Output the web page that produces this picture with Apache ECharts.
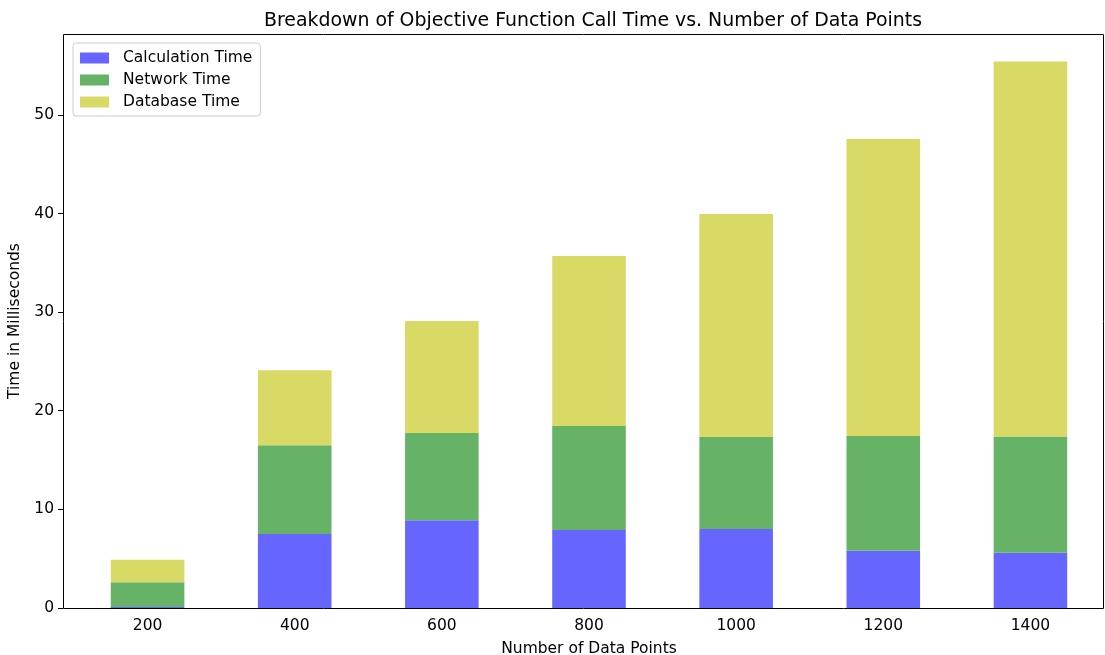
<!DOCTYPE html>
<html>
<head>
<meta charset="utf-8">
<script src="https://cdn.jsdelivr.net/npm/echarts@6/dist/echarts.min.js"></script>
<style>
  html, body { margin: 0; padding: 0; background: #fff; overflow: hidden; }
  #main { width: 1105px; height: 655px; }
</style>
</head>
<body>
<div id="main"></div>
<script>
var categories = ["200", "400", "600", "800", "1000", "1200", "1400"];
var calcTime = [0.1, 7.5, 8.9, 7.9, 8.0, 5.8, 5.6];
var networkTime = [2.5, 9.0, 8.85, 10.55, 9.35, 11.65, 11.8];
var databaseTime = [2.3, 7.6, 11.35, 17.25, 22.6, 30.1, 38.0];
var yTicks = [0, 10, 20, 30, 40, 50];

var font = "DejaVu Sans";
var chartDom = document.getElementById("main");
var myChart = echarts.init(chartDom);

function barSeries(name, data, color) {
  return {
    name: name,
    type: "bar",
    stack: "total",
    data: data,
    barWidth: "50%",
    itemStyle: { color: color },
    emphasis: { disabled: true }
  };
}

var option = {
  animation: false,
  textStyle: { fontFamily: font },
  title: {
    text: "Breakdown of Objective Function Call Time vs. Number of Data Points",
    left: 588,
    textAlign: "center",
    top: 7,
    textStyle: { fontFamily: font, fontSize: 18.9, fontWeight: "normal", color: "#000" }
  },
  legend: {
    orient: "vertical",
    left: 73,
    top: 43,
    itemWidth: 29,
    itemHeight: 11,
    itemGap: 6,
    padding: [7, 8, 6, 7],
    borderColor: "#ccc",
    borderWidth: 1,
    borderRadius: 3,
    backgroundColor: "#fff",
    icon: "rect",
    textStyle: { fontFamily: font, fontSize: 15.5, color: "#000", padding: [0, 0, 0, 9] },
    data: ["Calculation Time", "Network Time", "Database Time"]
  },
  // the plot frame (matplotlib style box), the bars start a little right of it
  graphic: [{
    type: "rect",
    z: 100,
    silent: true,
    shape: { x: 63.5, y: 34.5, width: 1040, height: 574 },
    style: { fill: null, stroke: "#000", lineWidth: 1 }
  }],
  grid: {
    left: 74,
    right: 1,
    top: 34,
    bottom: 47,
    show: false,
    outerBoundsMode: "none",
    containLabel: false
  },
  xAxis: {
    type: "category",
    data: categories,
    name: "Number of Data Points",
    nameLocation: "middle",
    nameGap: 33,
    nameTextStyle: { fontFamily: font, fontSize: 15.5, color: "#000" },
    axisLine: { show: false },
    axisTick: { alignWithLabel: true, length: 5, lineStyle: { color: "#000" } },
    axisLabel: { fontFamily: font, fontSize: 15.5, color: "#000", margin: 10 },
    splitLine: { show: false }
  },
  yAxis: {
    type: "value",
    min: 0,
    max: 58.2,
    offset: 11,
    name: "Time in Milliseconds",
    nameLocation: "middle",
    nameGap: 33,
    nameTextStyle: { fontFamily: font, fontSize: 15.5, color: "#000" },
    axisLine: { show: false, onZero: false },
    axisTick: { show: true, length: 5, lineStyle: { color: "#000" }, customValues: yTicks },
    axisLabel: {
      fontFamily: font, fontSize: 15.5, color: "#000", margin: 9,
      customValues: yTicks
    },
    splitLine: { show: false }
  },
  series: [
    barSeries("Calculation Time", calcTime, "#6666ff"),
    barSeries("Network Time", networkTime, "#66b266"),
    barSeries("Database Time", databaseTime, "#d9d966")
  ]
};

option && myChart.setOption(option);
</script>
</body>
</html>
